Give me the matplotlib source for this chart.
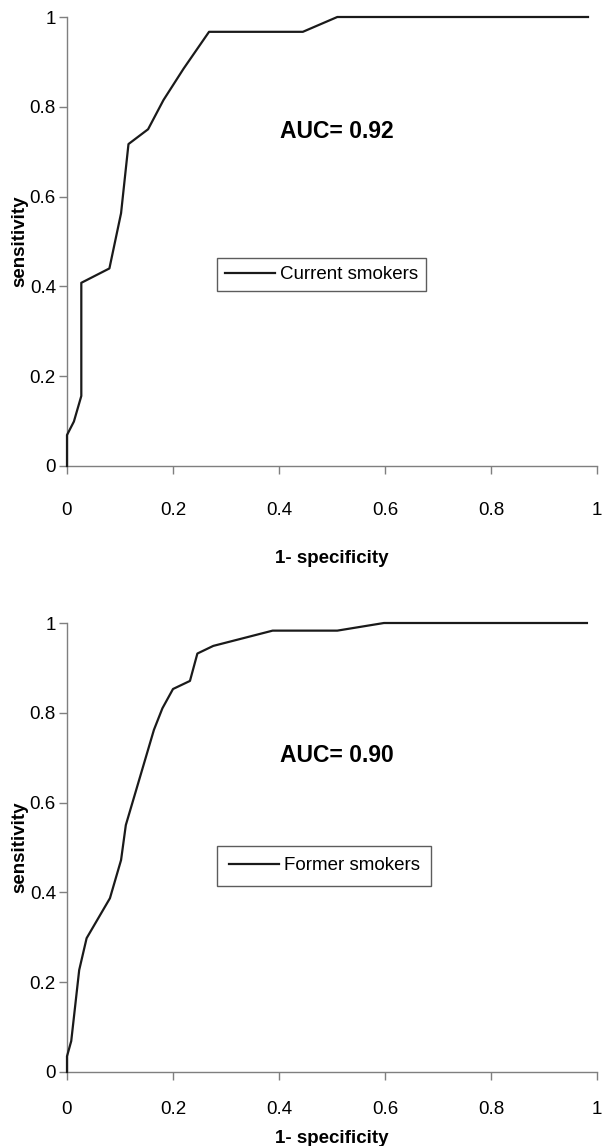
import numpy as np
import matplotlib
matplotlib.use("Agg")
import matplotlib.pyplot as plt

plt.rcParams['font.family'] = ['Liberation Sans', 'DejaVu Sans']

# ROC-Kurven: 1-Spezifität (x) und Sensitivität (y)
current_fpr = [0.0, 0.0, 0.013, 0.027, 0.027, 0.080, 0.102, 0.116, 0.153, 0.182,
               0.220, 0.268, 0.445, 0.510, 0.983]
current_tpr = [0.0, 0.069, 0.099, 0.156, 0.408, 0.440, 0.563, 0.717, 0.750, 0.815,
               0.885, 0.967, 0.967, 1.0, 1.0]
former_fpr = [0.0, 0.0, 0.008, 0.023, 0.037, 0.081, 0.102, 0.111, 0.138, 0.164,
              0.180, 0.200, 0.232, 0.246, 0.276, 0.388, 0.510, 0.598, 0.981]
former_tpr = [0.0, 0.035, 0.069, 0.227, 0.298, 0.387, 0.472, 0.550, 0.658, 0.762,
              0.810, 0.853, 0.871, 0.932, 0.949, 0.983, 0.983, 1.0, 1.0]

ticks = [0, 0.2, 0.4, 0.6, 0.8, 1.0]
tick_labels = ['0', '0.2', '0.4', '0.6', '0.8', '1']

panels = [
    (current_fpr, current_tpr, 'Current smokers', 'AUC= 0.92'),
    (former_fpr, former_tpr, 'Former smokers', 'AUC= 0.90'),
]

W, H = 603, 1146
fig = plt.figure(figsize=(W / 100, H / 100), dpi=100)

# Achsenpositionen in Pixeln (links, oben, rechts, unten)
boxes = [(67, 17, 597, 466), (67, 623, 597, 1072)]
legend_pos = [(217, 291), (217, 886)]
legend_pad = [0.42, 0.62]
auc_pos = [(337, 131), (337, 755)]
xpads = [(20, 22), (15, 8.5)]  # (Tick-Label-Abstand, xlabel-Abstand)

spine_col = '#7f7f7f'
for i, (fpr, tpr, name, auc) in enumerate(panels):
    l, t, r, b = boxes[i]
    ax = fig.add_axes([l / W, 1 - b / H, (r - l) / W, (b - t) / H])
    ax.plot(fpr, tpr, color='#1a1a1a', lw=1.6, label=name, clip_on=False, zorder=3)
    ax.set_xlim(0, 1)
    ax.set_ylim(0, 1)
    ax.set_xticks(ticks)
    ax.set_xticklabels(tick_labels)
    ax.set_yticks(ticks)
    ax.set_yticklabels(tick_labels)
    for s in ['top', 'right']:
        ax.spines[s].set_visible(False)
    for s in ['left', 'bottom']:
        ax.spines[s].set_color(spine_col)
        ax.spines[s].set_linewidth(1.0)
    ax.tick_params(axis='x', direction='out', length=6, width=1.0, color=spine_col,
                   pad=xpads[i][0], labelsize=13.5)
    ax.tick_params(axis='y', direction='out', length=6, width=1.0, color=spine_col,
                   pad=2, labelsize=13.5)
    ax.set_xlabel('1- specificity', fontsize=13.5, fontweight='bold', labelpad=xpads[i][1])
    ax.set_ylabel('sensitivity', fontsize=13.5, fontweight='bold', labelpad=1)
    ax_, ay_ = auc_pos[i]
    ax.text(ax_ / W, 1 - ay_ / H, auc, transform=fig.transFigure, ha='center', va='center',
            fontsize=16.5, fontweight='bold')
    lx, ly = legend_pos[i]
    leg = ax.legend(loc='lower left', bbox_to_anchor=(lx / W, 1 - ly / H),
                    bbox_transform=fig.transFigure, fontsize=13.5, frameon=True,
                    fancybox=False, handlelength=2.67, handletextpad=0.27,
                    borderpad=legend_pad[i], borderaxespad=0)
    leg.get_frame().set_edgecolor('#333333')
    leg.get_frame().set_linewidth(1.0)

fig.savefig('out.png', dpi=100)
